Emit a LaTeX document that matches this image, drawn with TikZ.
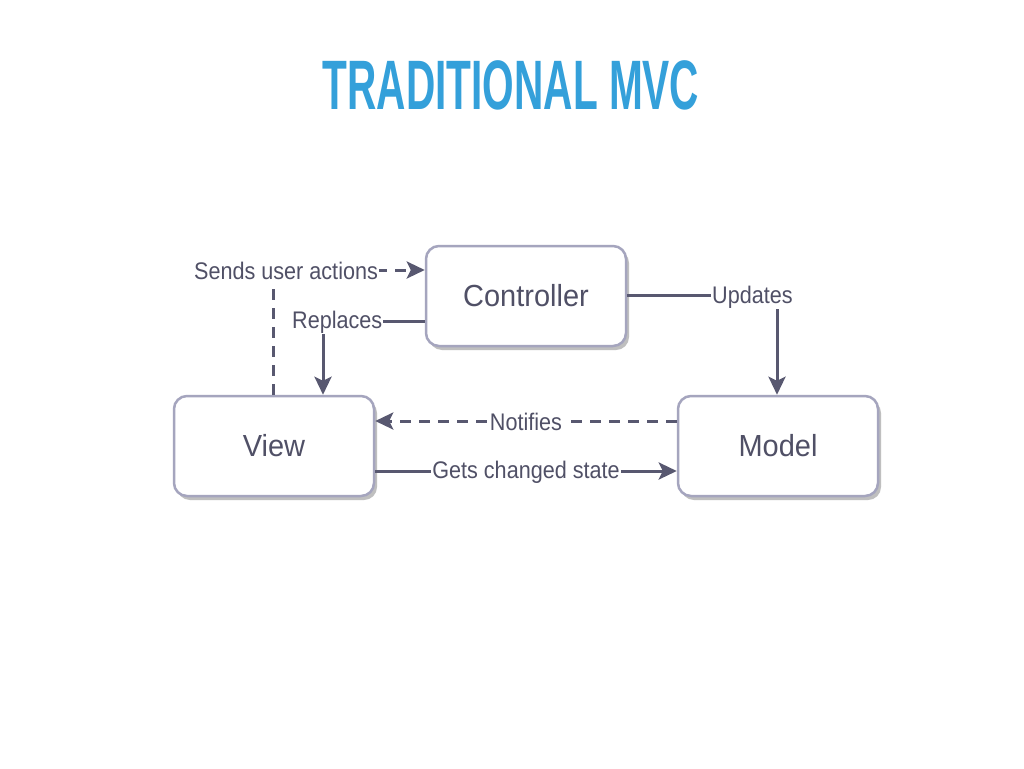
\documentclass[tikz,border=0pt]{standalone}
\usepackage{fontspec}
\setmainfont{Liberation Sans}
\usetikzlibrary{arrows.meta,calc,shadows}
\definecolor{titleblue}{RGB}{52,160,218}
\definecolor{linec}{RGB}{88,88,112}
\definecolor{boxc}{RGB}{165,165,190}
\definecolor{txtc}{RGB}{80,80,102}
\newcommand\lbltxt[1]{\scalebox{0.9}[1]{#1}}
\newcommand\boxtxt[1]{\scalebox{0.95}[1]{#1}}
\begin{document}
\begin{tikzpicture}[x=1pt,y=-1pt,
  box/.style={draw=boxc, line width=2.5pt, rounded corners=13pt, fill=white,
    minimum width=200pt, minimum height=100pt, text=txtc,
    font=\fontsize{30.5}{33}\selectfont,
    drop shadow={shadow xshift=3pt, shadow yshift=-4pt, fill=black!25, opacity=1}},
  conn/.style={draw=linec, line width=3pt, -{Stealth[length=18pt,width=17pt,inset=4pt]}},
  dashconn/.style={conn, dash pattern=on 11pt off 8pt},
  lbl/.style={fill=white, inner sep=1pt, text=txtc, font=\fontsize{24}{26}\selectfont}
]
\useasboundingbox (0,0) rectangle (1024,768);
\fill[white] (0,0) rectangle (1024,768);

\node[anchor=base, text=titleblue] (title) at (511,109)
  {\scalebox{0.58}[1]{\fontsize{70}{70}\selectfont\bfseries TRADITIONAL MVC}};

\node[box] (ctrl) at (526,296) {\boxtxt{Controller}};
\node[box] (view) at (274,446) {\boxtxt{View}};
\node[box] (model) at (778,446) {\boxtxt{Model}};

% Sends user actions
\draw[dashconn] ($(view.north)+(-1,0)$) |- ($(ctrl.west)+(0,-26)$)
  node[lbl, pos=0.543, yshift=-1pt] (lsend) {\lbltxt{Sends user actions}};
% Replaces
\draw[conn] ($(ctrl.west)+(0,25)$) -| ($(view.north)+(49,0)$)
  node[lbl, pos=0.43, yshift=-1pt] (lrepl) {\lbltxt{Replaces}};
% Updates
\draw[conn] ($(ctrl.east)+(0,-1)$) -| ($(model.north)+(-1,0)$)
  node[lbl, pos=0.418, yshift=-2pt] (lupd) {\lbltxt{Updates}};
% Notifies
\draw[dashconn] ($(model.west)+(0,-25)$) -- ($(view.east)+(0,-25)$)
  node[lbl, midway, yshift=-1pt] (lnot) {\lbltxt{Notifies}};
% Gets changed state
\draw[conn] ($(view.east)+(0,25)$) -- ($(model.west)+(0,25)$)
  node[lbl, midway, yshift=-1pt] (lget) {\lbltxt{Gets changed state}};
\end{tikzpicture}
\end{document}
